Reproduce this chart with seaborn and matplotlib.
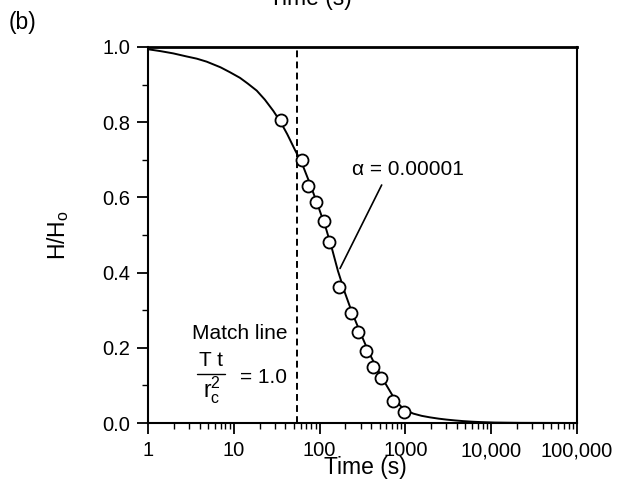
import numpy as np
import pandas as pd
import matplotlib
matplotlib.use("Agg")
import matplotlib.pyplot as plt
import seaborn as sns
from matplotlib.ticker import FixedLocator, FixedFormatter, LogLocator, NullFormatter, MultipleLocator

# ---- data ----
# type curve (alpha = 0.00001)
curve_t = [1, 1.4, 1.97, 2.8, 3.7, 4.83, 7, 9, 11.8, 14.5, 18.5, 23, 28.9, 35.2,
           42, 51.7, 62.4, 77.3, 95.8, 118.8, 140, 163.8, 197.6, 238.6, 296, 366,
           454, 578, 717, 840, 963, 1236, 1550, 1935, 2450, 3030, 3800, 4730, 6000,
           7400, 11000, 21700, 100000]
curve_h = [0.994, 0.989, 0.983, 0.975, 0.969, 0.961, 0.946, 0.933, 0.918, 0.903,
           0.884, 0.860, 0.830, 0.800, 0.768, 0.726, 0.690, 0.636, 0.578, 0.517,
           0.462, 0.404, 0.346, 0.294, 0.242, 0.193, 0.150, 0.107, 0.071, 0.050,
           0.036, 0.025, 0.019, 0.015, 0.0115, 0.0090, 0.0068, 0.0050, 0.0035,
           0.0025, 0.0012, 0.0004, 0.0]
# observed data
obs_t = [35.2, 62.9, 73.9, 90.8, 112.5, 128.8, 169.7, 230, 282, 347, 416, 515, 723, 963]
obs_h = [0.806, 0.699, 0.630, 0.587, 0.538, 0.482, 0.361, 0.292, 0.242, 0.192,
         0.150, 0.121, 0.058, 0.029]
match_t = 54
x_ticks = [1, 10, 100, 1000, 10000, 100000]
x_labels = ["1", "10", "100", "1000", "10,000", "100,000"]
y_ticks = [0.0, 0.2, 0.4, 0.6, 0.8, 1.0]
y_labels = ["0.0", "0.2", "0.4", "0.6", "0.8", "1.0"]

curve = pd.DataFrame({"t": curve_t, "h": curve_h})
obs = pd.DataFrame({"t": obs_t, "h": obs_h})

sns.set_theme(style="ticks")
plt.rcParams["font.family"] = ["Liberation Sans", "DejaVu Sans"]
plt.rcParams["mathtext.fontset"] = "custom"
plt.rcParams["mathtext.rm"] = "Liberation Sans"
plt.rcParams["mathtext.it"] = "Liberation Sans"
for k in ["text.color", "axes.labelcolor", "xtick.color", "ytick.color",
          "xtick.labelcolor", "ytick.labelcolor", "axes.edgecolor"]:
    plt.rcParams[k] = "black"

W, H = 618, 490
fig = plt.figure(figsize=(W / 100, H / 100), dpi=100)
fig.patch.set_facecolor("white")
ax = fig.add_axes([148 / W, 1 - 423 / H, 429 / W, 376 / H])
ax.set_facecolor("white")

sns.lineplot(data=curve, x="t", y="h", ax=ax, color="black", linewidth=1.4,
             sort=False, estimator=None)
sns.scatterplot(data=obs, x="t", y="h", ax=ax, s=75, facecolor="white",
                edgecolor="black", linewidth=1.3, zorder=3)
ax.axvline(match_t, color="black", linewidth=1.4, linestyle=(0, (3.5, 2.2)))

ax.set_xscale("log")
ax.set_xlim(1, 1e5)
ax.set_ylim(0, 1)

ax.xaxis.set_major_locator(FixedLocator(x_ticks))
ax.xaxis.set_major_formatter(FixedFormatter(x_labels))
ax.xaxis.set_minor_locator(LogLocator(base=10, subs=np.arange(2, 10)))
ax.xaxis.set_minor_formatter(NullFormatter())
ax.yaxis.set_major_locator(FixedLocator(y_ticks))
ax.yaxis.set_major_formatter(FixedFormatter(y_labels))
ax.yaxis.set_minor_locator(MultipleLocator(0.1))

ax.tick_params(which="major", direction="out", length=8, width=1.3,
               labelsize=14.5, colors="black", pad=5)
ax.tick_params(which="minor", direction="out", length=4.5, width=1.0, colors="black")
for s in ax.spines.values():
    s.set_linewidth(1.5)
    s.set_color("black")
ax.spines["top"].set_linewidth(2.0)

ax.set_xlabel("Time (s)", fontsize=16.5, color="black")
ax.xaxis.set_label_coords(0.506, -0.088)
ax.set_ylabel(r"H/H$_\mathregular{o}$", fontsize=16.5, color="black", labelpad=22)

# annotations
ax.text(1072, 0.673, "α = 0.00001", fontsize=15, ha="center", va="center")
ax.plot([529, 173], [0.633, 0.411], color="black", lw=1.2)
ax.text(3.26, 0.239, "Match line", fontsize=15, ha="left", va="center")
ax.text(5.42, 0.165, "T t", fontsize=15, ha="center", va="center")
ax.plot([3.72, 7.89], [0.130, 0.130], color="black", lw=1.0)
ax.text(5.6, 0.088, r"$\mathregular{r_c^2}$", fontsize=16.5, ha="center", va="center")
ax.text(11.8, 0.120, "= 1.0", fontsize=15, ha="left", va="center")

fig.text(22 / W, 1 - 22 / H, "(b)", fontsize=16.5, ha="center", va="center")
fig.text(310 / W, 1 - 5 / H, "Time (s)", fontsize=16.5, ha="center", va="baseline")

fig.savefig("out.png", dpi=100, facecolor="white")
